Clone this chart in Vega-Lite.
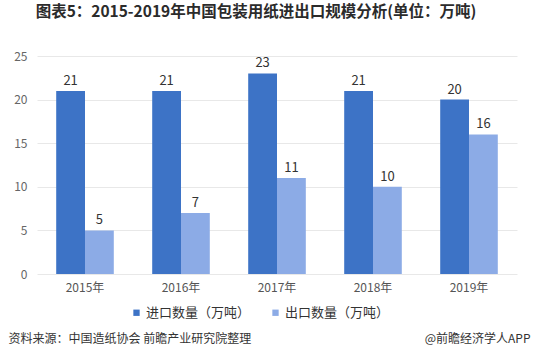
{
  "$schema": "https://vega.github.io/schema/vega-lite/v6.json",
  "width": 480,
  "height": 218,
  "autosize": {"type": "none"},
  "padding": {"left": 37, "top": 56, "right": 19, "bottom": 84},
  "background": "white",
  "config": {"view": {"stroke": null}, "font": "Noto Sans CJK SC"},
  "title": {
    "text": "图表5：2015-2019年中国包装用纸进出口规模分析(单位：万吨)",
    "fontSize": 15.5,
    "fontWeight": "bold",
    "color": "#2b2b2b",
    "anchor": "middle",
    "offset": 30,
    "dx": -21,
    "font": "Noto Sans CJK SC"
  },
  "data": {
    "values": [
      {"year": "2015年", "series": "进口数量（万吨）", "value": 21},
      {"year": "2016年", "series": "进口数量（万吨）", "value": 21},
      {"year": "2017年", "series": "进口数量（万吨）", "value": 23},
      {"year": "2018年", "series": "进口数量（万吨）", "value": 21},
      {"year": "2019年", "series": "进口数量（万吨）", "value": 20},
      {"year": "2015年", "series": "出口数量（万吨）", "value": 5},
      {"year": "2016年", "series": "出口数量（万吨）", "value": 7},
      {"year": "2017年", "series": "出口数量（万吨）", "value": 11},
      {"year": "2018年", "series": "出口数量（万吨）", "value": 10},
      {"year": "2019年", "series": "出口数量（万吨）", "value": 16}
    ]
  },
  "encoding": {
    "x": {
      "field": "year",
      "type": "nominal",
      "scale": {"paddingInner": 0.4, "paddingOuter": 0.2},
      "axis": {
        "labelAngle": 0,
        "labelFontSize": 12,
        "labelColor": "#555555",
        "labelPadding": 8,
        "ticks": false,
        "domain": false,
        "title": "资料来源：中国造纸协会 前瞻产业研究院整理",
        "titleFontSize": 12,
        "titleFontWeight": "normal",
        "titleColor": "#333333",
        "titleAnchor": "start",
        "titleAlign": "left",
        "titleBaseline": "middle",
        "titleX": -29,
        "titleY": 64
      }
    },
    "xOffset": {"field": "series", "type": "nominal", "sort": ["进口数量（万吨）", "出口数量（万吨）"], "scale": {"paddingInner": 0}},
    "y": {
      "field": "value",
      "type": "quantitative",
      "scale": {"domain": [0, 25]},
      "axis": {
        "values": [0, 5, 10, 15, 20, 25],
        "labelFontSize": 12,
        "labelColor": "#666666",
        "labelPadding": 10,
        "ticks": false,
        "domain": false,
        "gridColor": "#e8e8e8",
        "title": "@前瞻经济学人APP",
        "titleAngle": 0,
        "titleFontSize": 12,
        "titleFontWeight": "normal",
        "titleColor": "#333333",
        "titleAlign": "right",
        "titleBaseline": "middle",
        "titleX": 493,
        "titleY": 282
      }
    }
  },
  "layer": [
    {
      "mark": {"type": "bar"},
      "encoding": {
        "color": {
          "field": "series",
          "type": "nominal",
          "sort": ["进口数量（万吨）", "出口数量（万吨）"],
          "scale": {"domain": ["进口数量（万吨）", "出口数量（万吨）"], "range": ["#3d73c6", "#8cabe6"]},
          "legend": {
            "title": null,
            "orient": "none",
            "direction": "horizontal",
            "legendX": 93,
            "legendY": 250,
            "symbolType": "square",
            "symbolSize": 40,
            "labelFontSize": 13,
            "labelColor": "#333333",
            "columnPadding": 18,
            "labelOffset": 3
          }
        }
      }
    },
    {
      "mark": {"type": "text", "dy": -10, "fontSize": 13, "color": "#333333"},
      "encoding": {"text": {"field": "value", "type": "quantitative"}}
    }
  ]
}
